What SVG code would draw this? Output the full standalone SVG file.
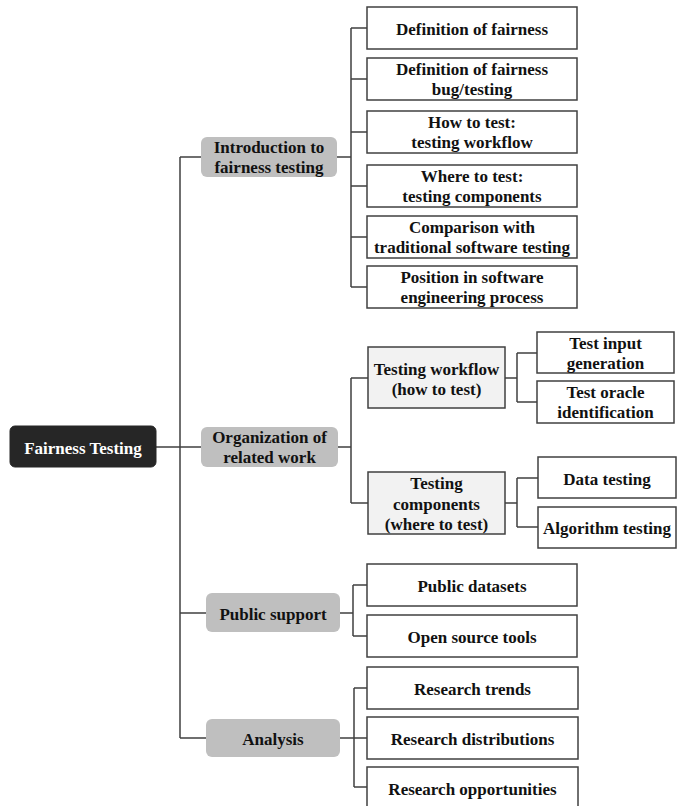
<svg xmlns="http://www.w3.org/2000/svg" width="683" height="806" viewBox="0 0 683 806">
<style>
  text { font-family: "Liberation Serif", "Times New Roman", serif; font-weight: bold; font-size: 17px; fill: #111; text-anchor: middle; }
  .root rect { fill: #262626; stroke: #262626; }
  .root text { fill: #ffffff; }
  .l1 rect { fill: #bfbfbf; stroke: none; }
  .l2 rect { fill: #f2f2f2; stroke: #404040; stroke-width: 1.5; }
  .leaf rect { fill: #ffffff; stroke: #404040; stroke-width: 1.5; }
  #connectors path { fill: none; stroke: #404040; stroke-width: 1.5; }
</style>
<rect width="683" height="806" fill="#ffffff"/>
<g id="connectors">
  <path d="M156,447 H180 M180,157 V738 M180,157 H201 M180,447 H201 M180,613 H206 M180,738 H206"/>
  <path d="M337,157 H351 M351,28 V287 M351,28 H367 M351,79 H367 M351,132 H367 M351,186 H367 M351,237 H367 M351,287 H367"/>
  <path d="M338,447 H351 M351,378 V503 M351,378 H368 M351,503 H368"/>
  <path d="M505,378 H517 M517,353 V402 M517,353 H537 M517,402 H537"/>
  <path d="M505,503 H517 M517,478 V527 M517,478 H538 M517,527 H538"/>
  <path d="M340,613 H353 M353,585 V636 M353,585 H367 M353,636 H367"/>
  <path d="M340,738 H354 M354,688 V787 M354,688 H367 M354,738 H367 M354,787 H367"/>
</g>
<g id="root" class="root"><rect x="10" y="426" width="146" height="41" rx="5"/><text x="83" y="453.5">Fairness Testing</text></g>
<g id="intro" class="l1"><rect x="201" y="137" width="136" height="40" rx="6"/><text x="269" y="153">Introduction to</text><text x="269" y="173">fairness testing</text></g>
<g id="org" class="l1"><rect x="201" y="427" width="137" height="40" rx="6"/><text x="269.5" y="443">Organization of</text><text x="269.5" y="463">related work</text></g>
<g id="public" class="l1"><rect x="206" y="593" width="134" height="39" rx="6"/><text x="273" y="619.5">Public support</text></g>
<g id="analysis" class="l1"><rect x="206" y="719" width="134" height="38" rx="6"/><text x="273" y="745">Analysis</text></g>

<g id="def-fairness" class="leaf"><rect x="367" y="7" width="210" height="42"/><text x="472" y="35">Definition of fairness</text></g>
<g id="def-bug" class="leaf"><rect x="367" y="58" width="210" height="42"/><text x="472" y="75">Definition of fairness</text><text x="472" y="95">bug/testing</text></g>
<g id="how" class="leaf"><rect x="367" y="111" width="210" height="42"/><text x="472" y="128">How to test:</text><text x="472" y="148">testing workflow</text></g>
<g id="where" class="leaf"><rect x="367" y="165" width="210" height="42"/><text x="472" y="182">Where to test:</text><text x="472" y="202">testing components</text></g>
<g id="comparison" class="leaf"><rect x="367" y="216" width="210" height="42"/><text x="472" y="233">Comparison with</text><text x="472" y="253">traditional software testing</text></g>
<g id="position" class="leaf"><rect x="367" y="266" width="210" height="42"/><text x="472" y="283">Position in software</text><text x="472" y="303">engineering process</text></g>

<g id="workflow" class="l2"><rect x="368" y="347" width="137" height="61"/><text x="436.5" y="375">Testing workflow</text><text x="436.5" y="395">(how to test)</text></g>
<g id="components" class="l2"><rect x="368" y="472" width="137" height="62"/><text x="436.5" y="489">Testing</text><text x="436.5" y="510">components</text><text x="436.5" y="530">(where to test)</text></g>

<g id="input" class="leaf"><rect x="537" y="332" width="137" height="41"/><text x="605.5" y="349">Test input</text><text x="605.5" y="369">generation</text></g>
<g id="oracle" class="leaf"><rect x="537" y="381" width="137" height="42"/><text x="605.5" y="398">Test oracle</text><text x="605.5" y="418">identification</text></g>
<g id="data" class="leaf"><rect x="538" y="457" width="138" height="41"/><text x="607" y="484.5">Data testing</text></g>
<g id="algorithm" class="leaf"><rect x="538" y="507" width="138" height="41"/><text x="607" y="534">Algorithm testing</text></g>

<g id="datasets" class="leaf"><rect x="367" y="564" width="210" height="42"/><text x="472" y="592">Public datasets</text></g>
<g id="tools" class="leaf"><rect x="367" y="615" width="210" height="42"/><text x="472" y="643">Open source tools</text></g>

<g id="trends" class="leaf"><rect x="367" y="667" width="211" height="42"/><text x="472.5" y="695">Research trends</text></g>
<g id="distributions" class="leaf"><rect x="367" y="717" width="211" height="42"/><text x="472.5" y="745">Research distributions</text></g>
<g id="opportunities" class="leaf"><rect x="367" y="767" width="211" height="42"/><text x="472.5" y="795">Research opportunities</text></g>
</svg>
